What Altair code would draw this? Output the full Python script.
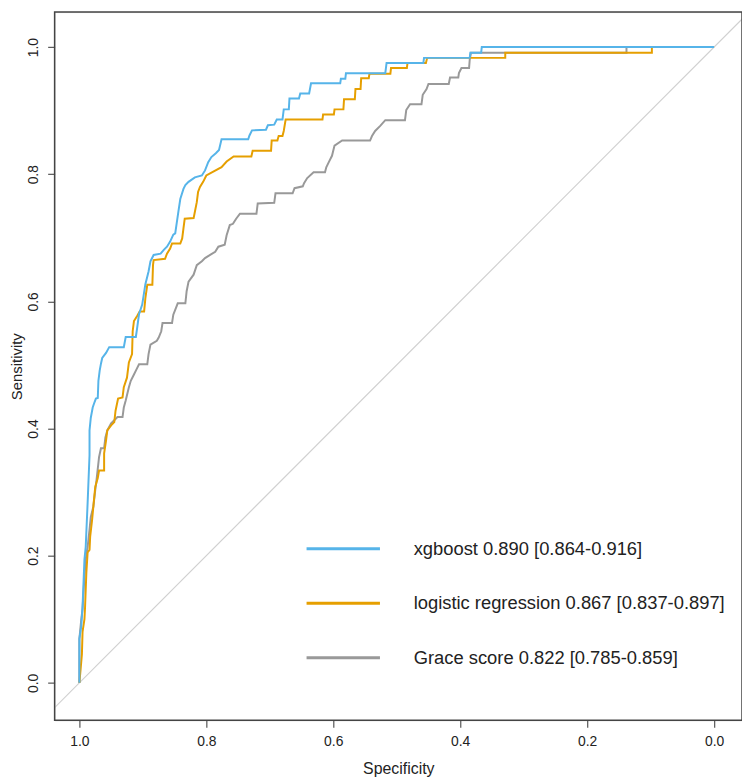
import altair as alt
import pandas as pd

# ---- data ----
xgb_spec = [1.0, 1.0, 0.997, 0.995, 0.992, 0.99, 0.987, 0.984, 0.984, 0.982, 0.979, 0.977, 0.974, 0.971,
            0.970, 0.968, 0.966, 0.964, 0.958, 0.953, 0.930, 0.927, 0.911, 0.909, 0.906, 0.901, 0.896,
            0.891, 0.888, 0.883, 0.872, 0.867, 0.862, 0.857, 0.852, 0.849, 0.844, 0.841, 0.836, 0.833,
            0.828, 0.818, 0.807, 0.802, 0.797, 0.792, 0.785, 0.780, 0.776, 0.734, 0.732, 0.728, 0.706,
            0.703, 0.693, 0.689, 0.680, 0.678, 0.670, 0.669, 0.654, 0.652, 0.638, 0.635, 0.589, 0.588,
            0.581, 0.580, 0.518, 0.516, 0.458, 0.457, 0.385, 0.384, 0.367, 0.366, 0.0]
xgb_sens = [0.0, 0.069, 0.089, 0.12, 0.194, 0.214, 0.283, 0.358, 0.397, 0.417, 0.433, 0.439, 0.447, 0.448,
            0.475, 0.491, 0.502, 0.511, 0.519, 0.528, 0.528, 0.544, 0.544, 0.558, 0.58, 0.595, 0.627,
            0.647, 0.663, 0.673, 0.675, 0.681, 0.686, 0.694, 0.705, 0.707, 0.741, 0.761, 0.777, 0.783,
            0.788, 0.795, 0.798, 0.806, 0.819, 0.827, 0.833, 0.838, 0.855, 0.855, 0.861, 0.869, 0.870,
            0.877, 0.878, 0.886, 0.886, 0.902, 0.902, 0.919, 0.919, 0.927, 0.927, 0.943, 0.943, 0.95,
            0.95, 0.959, 0.959, 0.975, 0.975, 0.983, 0.983, 0.991, 0.991, 1.0, 1.0]

lr_spec = [1.0, 0.998, 0.996, 0.995, 0.992, 0.991, 0.989, 0.987, 0.984, 0.983, 0.98, 0.978, 0.975, 0.971,
           0.969, 0.961, 0.961, 0.958, 0.956, 0.950, 0.945, 0.943, 0.939, 0.932, 0.930, 0.925, 0.922,
           0.917, 0.916, 0.914, 0.909, 0.905, 0.898, 0.896, 0.893, 0.885, 0.884, 0.883, 0.865, 0.862,
           0.857, 0.854, 0.841, 0.838, 0.836, 0.834, 0.820, 0.818, 0.815, 0.813, 0.810, 0.805, 0.800,
           0.789, 0.776, 0.768, 0.757, 0.729, 0.727, 0.698, 0.697, 0.688, 0.686, 0.680, 0.678, 0.675,
           0.617, 0.616, 0.599, 0.598, 0.584, 0.583, 0.566, 0.565, 0.557, 0.556, 0.544, 0.543, 0.510,
           0.509, 0.484, 0.483, 0.454, 0.452, 0.329, 0.329, 0.098, 0.098, 0.0]
lr_sens = [0.0, 0.022, 0.045, 0.08, 0.1, 0.12, 0.173, 0.205, 0.209, 0.23, 0.256, 0.277, 0.308, 0.322,
           0.334, 0.334, 0.361, 0.381, 0.397, 0.405, 0.41, 0.428, 0.447, 0.449, 0.465, 0.48, 0.504,
           0.517, 0.553, 0.569, 0.577, 0.584, 0.584, 0.605, 0.626, 0.626, 0.657, 0.665, 0.667, 0.675,
           0.683, 0.691, 0.691, 0.699, 0.715, 0.730, 0.731, 0.741, 0.756, 0.772, 0.78, 0.788, 0.798,
           0.804, 0.811, 0.820, 0.828, 0.828, 0.837, 0.837, 0.853, 0.853, 0.860, 0.860, 0.868, 0.886,
           0.886, 0.894, 0.894, 0.902, 0.902, 0.918, 0.918, 0.934, 0.934, 0.951, 0.951, 0.958, 0.958,
           0.967, 0.967, 0.975, 0.975, 0.983, 0.983, 0.991, 0.991, 1.0, 1.0]

grace_spec = [1.0, 1.0, 0.997, 0.995, 0.992, 0.99, 0.987, 0.984, 0.982, 0.978, 0.975, 0.973, 0.969, 0.966,
              0.961, 0.959, 0.956, 0.950, 0.940, 0.932, 0.930, 0.927, 0.922, 0.919, 0.914, 0.910, 0.906,
              0.893, 0.891, 0.888, 0.878, 0.875, 0.871, 0.869, 0.854, 0.852, 0.845, 0.833, 0.831, 0.828,
              0.820, 0.815, 0.807, 0.802, 0.794, 0.786, 0.781, 0.771, 0.768, 0.763, 0.758, 0.753, 0.747,
              0.721, 0.719, 0.693, 0.691, 0.664, 0.661, 0.648, 0.646, 0.641, 0.631, 0.613, 0.611, 0.607,
              0.602, 0.598, 0.586, 0.542, 0.539, 0.534, 0.526, 0.518, 0.487, 0.485, 0.479, 0.461, 0.459,
              0.453, 0.450, 0.418, 0.416, 0.403, 0.402, 0.398, 0.386, 0.385, 0.383, 0.138, 0.138, 0.0]
grace_sens = [0.0, 0.069, 0.1, 0.116, 0.167, 0.194, 0.214, 0.241, 0.261, 0.277, 0.303, 0.319, 0.355, 0.369,
              0.369, 0.386, 0.397, 0.408, 0.418, 0.418, 0.433, 0.444, 0.465, 0.475, 0.485, 0.493, 0.501,
              0.501, 0.517, 0.532, 0.538, 0.543, 0.553, 0.566, 0.566, 0.579, 0.597, 0.597, 0.616, 0.631,
              0.642, 0.657, 0.663, 0.668, 0.673, 0.678, 0.686, 0.689, 0.704, 0.720, 0.722, 0.730, 0.738,
              0.738, 0.754, 0.755, 0.77, 0.77, 0.778, 0.781, 0.786, 0.794, 0.803, 0.803, 0.811, 0.819,
              0.829, 0.845, 0.853, 0.853, 0.86, 0.868, 0.876, 0.885, 0.885, 0.901, 0.91, 0.91, 0.925,
              0.934, 0.942, 0.942, 0.952, 0.952, 0.959, 0.967, 0.967, 0.98, 0.991, 0.991, 1.0, 1.0]

models = ["xgboost", "logistic regression", "Grace score"]
legend_labels = ["xgboost 0.890 [0.864-0.916]",
                 "logistic regression 0.867 [0.837-0.897]",
                 "Grace score 0.822 [0.785-0.859]"]
colors = ["#56B4E9", "#E69F00", "#999999"]

diag_spec = [1.2, -0.2]
diag_sens = [-0.2, 1.2]

# ---- build tables ----
rows = []
for name, sp, se in [(models[0], xgb_spec, xgb_sens),
                     (models[1], lr_spec, lr_sens),
                     (models[2], grace_spec, grace_sens)]:
    for i, (a, b) in enumerate(zip(sp, se)):
        rows.append({"model": name, "spec": a, "sens": b, "idx": i})
curves = pd.DataFrame(rows)
diag = pd.DataFrame({"spec": diag_spec, "sens": diag_sens, "idx": [0, 1]})

FONT_AX = "Liberation Sans Narrow, Liberation Sans, Arial"
FONT = "Liberation Sans, Arial"

W, H = 693, 714

xscale = alt.Scale(domain=[-0.044, 1.039], reverse=True, nice=False, zero=False)
yscale = alt.Scale(domain=[-0.059, 1.055], nice=False, zero=False)

xaxis = alt.Axis(values=[0, 0.2, 0.4, 0.6, 0.8, 1.0], format=".1f", title="Specificity",
                 grid=False, domain=False, tickSize=7, tickColor="#333", labelPadding=7,
                 labelFontSize=14, labelFont=FONT_AX, labelColor="#222",
                 titleFont=FONT_AX, titleFontSize=16, titleFontWeight="normal",
                 titleColor="#222", titlePadding=13)
yaxis = alt.Axis(values=[0, 0.2, 0.4, 0.6, 0.8, 1.0], format=".1f", title="Sensitivity",
                 grid=False, domain=False, tickSize=7, tickColor="#333", labelPadding=7,
                 labelAngle=-90, labelAlign="center", labelBaseline="bottom",
                 labelFontSize=14, labelFont=FONT_AX, labelColor="#222",
                 titleFont=FONT_AX, titleFontSize=15, titleFontWeight="normal",
                 titleColor="#222", titlePadding=2)

diag_layer = alt.Chart(diag).mark_line(color="#D0D0D0", strokeWidth=1.2, clip=True).encode(
    x=alt.X("spec:Q", scale=xscale, axis=xaxis),
    y=alt.Y("sens:Q", scale=yscale, axis=yaxis),
    order="idx:Q",
)

curve_layers = []
for name, col in zip(reversed(models), reversed(colors)):
    curve_layers.append(
        alt.Chart(curves).transform_filter(alt.datum.model == name)
        .mark_line(color=col, strokeWidth=2, clip=True)
        .encode(x=alt.X("spec:Q", scale=xscale), y=alt.Y("sens:Q", scale=yscale), order="idx:Q")
    )

# plot frame
frame = alt.Chart(pd.DataFrame({"k": [0]})).mark_rect(
    fill=None, fillOpacity=0, stroke="#444444", strokeWidth=1.5
).encode(x=alt.value(0), x2=alt.value(W), y=alt.value(0), y2=alt.value(H))

# legend drawn inside the plot (pixel placement)
leg = pd.DataFrame({"label": legend_labels, "color": colors})
leg_layers = []
for i, (lab, col) in enumerate(zip(legend_labels, colors)):
    ypix = 541 + 55 * i
    leg_layers.append(
        alt.Chart(leg.iloc[[i]]).mark_rule(color=col, strokeWidth=3).encode(
            x=alt.value(254), x2=alt.value(328), y=alt.value(ypix))
    )
    leg_layers.append(
        alt.Chart(leg.iloc[[i]]).mark_text(align="left", baseline="middle", font=FONT,
                                           fontSize=18.5, color="#222").encode(
            x=alt.value(362), y=alt.value(ypix), text="label:N")
    )

chart = alt.layer(diag_layer, *curve_layers, *leg_layers, frame).properties(
    width=W, height=H,
    autosize=alt.AutoSizeParams(type="none"),
    padding={"left": 47, "top": 1, "right": 0, "bottom": 54},
).configure_view(stroke=None).configure(background="white")

chart.save("out.html", embed_options={"renderer": "svg", "actions": False})
